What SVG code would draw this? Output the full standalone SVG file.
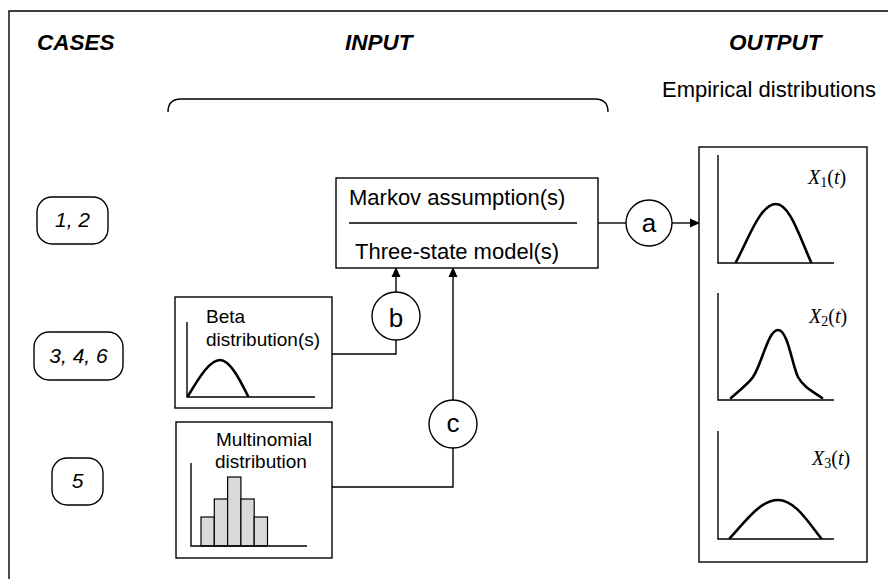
<svg xmlns="http://www.w3.org/2000/svg" width="888" height="579" viewBox="0 0 888 579">
<defs>
<marker id="ah" markerWidth="10" markerHeight="10" refX="9" refY="5" orient="auto" markerUnits="userSpaceOnUse">
<path d="M0,0.5 L10,5 L0,9.5 Z" fill="#000"/>
</marker>
<style>
.ln{fill:none;stroke:#000;stroke-width:1.4}
.box{fill:#fff;stroke:#000;stroke-width:1.4}
.crv{fill:none;stroke:#000;stroke-width:2.6;stroke-linejoin:round;stroke-linecap:round}
.sans{font-family:"Liberation Sans",Arial,sans-serif;fill:#000}
.hd{font-family:"Liberation Sans",Arial,sans-serif;font-size:22.5px;font-weight:bold;font-style:italic;fill:#000}
.cs{font-family:"Liberation Sans",Arial,sans-serif;font-size:21px;font-style:italic;fill:#000}
.lt{font-family:"Liberation Sans",Arial,sans-serif;font-size:26px;fill:#000;text-anchor:middle}
.xt{font-family:"Liberation Serif","Times New Roman",serif;font-size:20px;fill:#000}
.bar{fill:#d9d9d9;stroke:#000;stroke-width:1.2}
</style>
</defs>
<rect width="888" height="579" fill="#fff"/>
<path class="ln" d="M9,579 L9,11 L888,11"/>

<text class="hd" x="37" y="50">CASES</text>
<text class="hd" x="345" y="50">INPUT</text>
<text class="hd" x="729" y="50">OUTPUT</text>
<text class="sans" x="662" y="97" font-size="22">Empirical distributions</text>
<path class="ln" d="M168,112 Q168,99 181,99 L595,99 Q608,99 608,112"/>

<g id="case12">
<rect class="box" x="37" y="197" width="71" height="47" rx="15"/>
<text class="cs" x="72.5" y="227" text-anchor="middle">1, 2</text>
</g>
<g id="case346">
<rect class="box" x="34" y="332" width="89" height="48" rx="15"/>
<text class="cs" x="78.5" y="363" text-anchor="middle">3, 4, 6</text>
</g>
<g id="case5">
<rect class="box" x="52" y="458" width="51" height="47" rx="15"/>
<text class="cs" x="77.5" y="488" text-anchor="middle">5</text>
</g>

<g id="connectors">
<path class="ln" d="M598,223 L626,223"/>
<path class="ln" d="M672,223 L699,223" marker-end="url(#ah)"/>
<path class="ln" d="M396,292 L396,268" marker-end="url(#ah)"/>
<path class="ln" d="M332,354 L396,354 L396,340"/>
<path class="ln" d="M453,400 L453,268" marker-end="url(#ah)"/>
<path class="ln" d="M332,487 L453,487 L453,448"/>
</g>

<g id="markov">
<rect class="box" x="336" y="178" width="262" height="90"/>
<path class="ln" d="M349,223 L577,223"/>
<text class="sans" x="349" y="205" font-size="22">Markov assumption(s)</text>
<text class="sans" x="355" y="259" font-size="22">Three-state model(s)</text>
</g>

<g id="a">
<circle class="box" cx="649" cy="223" r="23"/>
<text class="lt" x="649" y="232">a</text>
</g>
<g id="b">
<circle class="box" cx="396" cy="316" r="24"/>
<text class="lt" x="396" y="327">b</text>
</g>
<g id="c">
<circle class="box" cx="453" cy="424" r="24"/>
<text class="lt" x="453" y="432">c</text>
</g>

<g id="beta">
<rect class="box" x="175" y="297" width="157" height="111"/>
<text class="sans" x="206" y="323" font-size="19">Beta</text>
<text class="sans" x="206" y="346" font-size="19">distribution(s)</text>
<path class="ln" d="M187,322 L187,397 L315,397"/>
<path class="crv" d="M188,396 C200,376 210,360 220,360 C230,360 240,380 248,396"/>
</g>

<g id="multinomial">
<rect class="box" x="176" y="422" width="156" height="136"/>
<text class="sans" x="216" y="446" font-size="19">Multinomial</text>
<text class="sans" x="215" y="468" font-size="19">distribution</text>
<rect class="bar" x="201" y="517" width="13.3" height="29"/>
<rect class="bar" x="214.3" y="499" width="13.3" height="47"/>
<rect class="bar" x="227.6" y="477" width="13.3" height="69"/>
<rect class="bar" x="240.9" y="499" width="13.3" height="47"/>
<rect class="bar" x="254.2" y="517" width="13.3" height="29"/>
<path class="ln" d="M191,463 L191,546 L307,546"/>
</g>

<g id="output">
<rect class="box" x="699" y="147" width="168" height="415"/>
<path class="ln" d="M718,155 L718,263 L834,263"/>
<path class="crv" d="M736,262 C748,240 760,204 776,204 C790,204 800,238 811,262"/>
<text class="xt" x="808" y="184"><tspan font-style="italic">X</tspan><tspan font-size="14" dy="3">1</tspan><tspan dy="-3">(</tspan><tspan font-style="italic">t</tspan>)</text>

<path class="ln" d="M718,293 L718,400 L834,400"/>
<path class="crv" d="M731,398 C740,390 748,384 753,377 C762,364 768,330 778,330 C788,330 792,365 798,377 C804,388 814,392 822,398"/>
<text class="xt" x="809" y="323"><tspan font-style="italic">X</tspan><tspan font-size="14" dy="3">2</tspan><tspan dy="-3">(</tspan><tspan font-style="italic">t</tspan>)</text>

<path class="ln" d="M718,431 L718,539 L834,539"/>
<path class="crv" d="M730,538 C745,522 760,500 778,500 C795,500 808,522 821,538"/>
<text class="xt" x="812" y="465"><tspan font-style="italic">X</tspan><tspan font-size="14" dy="3">3</tspan><tspan dy="-3">(</tspan><tspan font-style="italic">t</tspan>)</text>
</g>
</svg>
